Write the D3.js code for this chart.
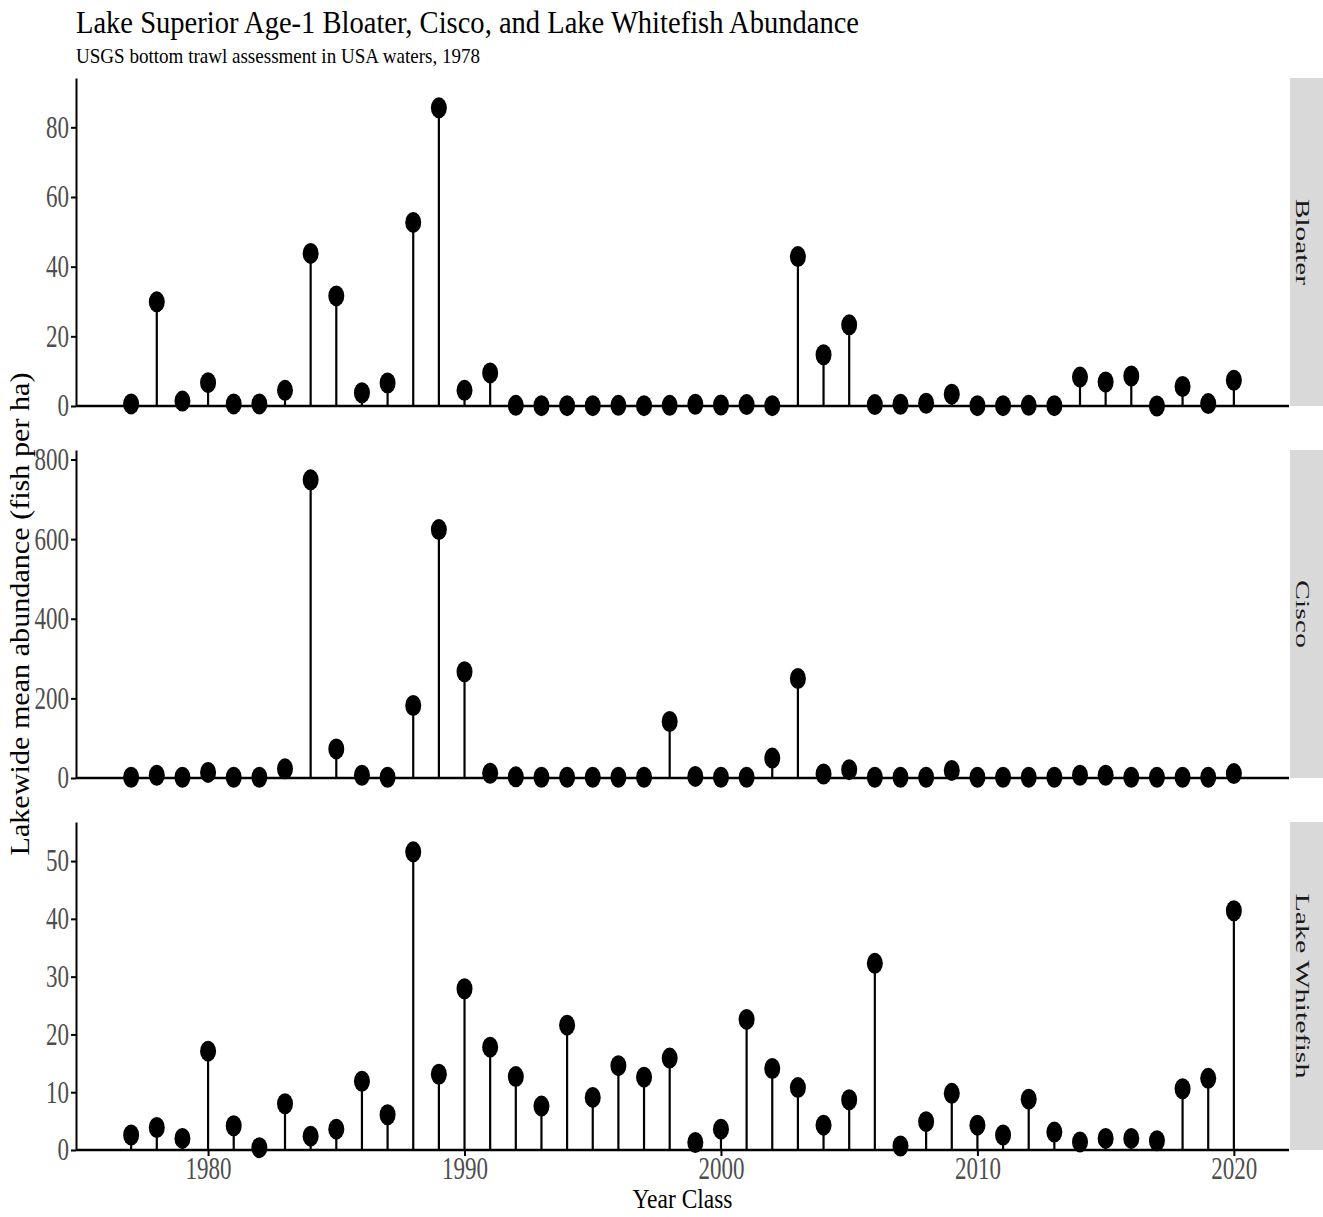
<!DOCTYPE html>
<html><head><meta charset="utf-8">
<script src="https://cdn.jsdelivr.net/npm/d3@7"></script>
<style>body{margin:0;background:#fff} svg{display:block}</style>
</head><body>
<svg id="c" width="1323" height="1217"></svg>
<script>
const years = [1977,1978,1979,1980,1981,1982,1983,1984,1985,1986,1987,1988,1989,1990,1991,1992,1993,1994,1995,1996,1997,1998,1999,2000,2001,2002,2003,2004,2005,2006,2007,2008,2009,2010,2011,2012,2013,2014,2015,2016,2017,2018,2019,2020];
const bloater = [0.6,29.9,1.4,6.7,0.6,0.6,4.5,43.8,31.6,3.8,6.6,52.7,85.6,4.5,9.5,0.2,0.1,0.1,0.1,0.2,0.1,0.2,0.5,0.3,0.4,0.1,42.9,14.7,23.3,0.4,0.5,0.8,3.4,0.1,0.1,0.2,0.1,8.3,6.9,8.6,0.0,5.6,0.7,7.4];
const cisco = [2,7,2,14,2,2,23,749,73,7,2,182,624,267,12,3,2,2,2,2,2,142,4,2,2,50,250,10,21,2,2,2,19,2,2,2,2,7,7,2,2,2,2,11];
const whitefish = [2.6,3.9,2.0,17.1,4.2,0.4,8.0,2.4,3.6,11.9,6.1,51.6,13.1,27.9,17.8,12.7,7.6,21.6,9.1,14.6,12.6,15.9,1.3,3.6,22.6,14.1,10.8,4.3,8.7,32.3,0.7,4.9,9.8,4.3,2.6,8.8,3.1,1.4,2.0,2.0,1.6,10.6,12.4,41.4];
const species = ["Bloater","Cisco","Lake Whitefish"];
const xTicks = [1980,1990,2000,2010,2020];
const yTicksBloater = [0,20,40,60,80];
const yTicksCisco = [0,200,400,600,800];
const yTicksWhitefish = [0,10,20,30,40,50];
const titleText = "Lake Superior Age-1 Bloater, Cisco, and Lake Whitefish Abundance";
const subtitleText = "USGS bottom trawl assessment in USA waters, 1978";
const xTitle = "Year Class";
const yTitle = "Lakewide mean abundance (fish per ha)";

const W = 1323, H = 1217;
const left = 76, right = 1289, panelTops = [78, 450, 822], panelH = 328;
const stripX = 1290, stripW = 33;
const FONT = "'Liberation Serif','Times New Roman',Times,serif";

const svg = d3.select("#c");
svg.append("rect").attr("width", W).attr("height", H).attr("fill", "#fff");

const ext = d3.extent(years), pad = (ext[1] - ext[0]) * 0.05;
const x = d3.scaleLinear().domain([ext[0] - pad, ext[1] + pad]).range([left, right]);

const seriesList = [bloater, cisco, whitefish];
const tickList = [yTicksBloater, yTicksCisco, yTicksWhitefish];
const stripLens = [86, 68, 185];

seriesList.forEach((vals, i) => {
  const top = panelTops[i];
  const y = d3.scaleLinear().domain([0, d3.max(vals) * 1.1]).range([top + panelH, top]);
  const data = years.map((yr, j) => ({year: yr, v: vals[j]}));

  // strip
  svg.append("rect").attr("x", stripX).attr("y", top).attr("width", stripW).attr("height", panelH).attr("fill", "#D9D9D9");
  svg.append("text").attr("transform", `translate(1296,${top + panelH / 2}) rotate(90)`)
    .attr("text-anchor", "middle").attr("font-family", FONT).attr("font-size", 18.5).attr("fill", "#1a1a1a")
    .attr("textLength", stripLens[i]).attr("lengthAdjust", "spacingAndGlyphs")
    .text(species[i]);

  // y axis
  const ay = svg.append("g").attr("transform", `translate(${left},0)`)
    .call(d3.axisLeft(y).tickValues(tickList[i]).tickSize(5).tickSizeOuter(0).tickPadding(2).tickFormat(d3.format("d")));
  ay.select(".domain").attr("stroke", "#000").attr("stroke-width", 2);
  ay.selectAll(".tick line").attr("stroke", "#000").attr("stroke-width", 2);
  ay.selectAll(".tick text").attr("font-family", FONT).attr("font-size", 31).attr("fill", "#4D4D4D")
    .attr("textLength", d => String(d).length * 11.5).attr("lengthAdjust", "spacingAndGlyphs");

  const g = svg.append("g");
  // stems
  g.selectAll("line.stem").data(data).join("line").attr("class", "stem")
    .attr("x1", d => x(d.year)).attr("x2", d => x(d.year))
    .attr("y1", y(0)).attr("y2", d => y(d.v))
    .attr("stroke", "#000").attr("stroke-width", 2.2);
  // zero line
  g.append("line").attr("x1", left).attr("x2", right).attr("y1", y(0)).attr("y2", y(0))
    .attr("stroke", "#000").attr("stroke-width", 2.6);
  // dots
  g.selectAll("ellipse").data(data).join("ellipse")
    .attr("cx", d => x(d.year)).attr("cy", d => y(d.v))
    .attr("rx", 8).attr("ry", 10.5).attr("fill", "#000");

  if (i === 2) {
    const ax = svg.append("g").attr("transform", `translate(0,${top + panelH})`)
      .call(d3.axisBottom(x).tickValues(xTicks).tickSize(6).tickSizeOuter(0).tickPadding(1).tickFormat(d3.format("d")));
    ax.select(".domain").remove();
    ax.selectAll(".tick line").attr("stroke", "#000").attr("stroke-width", 2);
    ax.selectAll(".tick text").attr("font-family", FONT).attr("font-size", 31).attr("fill", "#4D4D4D")
      .attr("textLength", d => String(d).length * 11.5).attr("lengthAdjust", "spacingAndGlyphs");
  }
});

// titles
svg.append("text").attr("x", 76).attr("y", 33).attr("font-family", FONT).attr("font-size", 31).attr("fill", "#000")
  .attr("textLength", 783).attr("lengthAdjust", "spacingAndGlyphs").text(titleText);
svg.append("text").attr("x", 76).attr("y", 63).attr("font-family", FONT).attr("font-size", 21).attr("fill", "#000")
  .attr("textLength", 404).attr("lengthAdjust", "spacingAndGlyphs").text(subtitleText);
svg.append("text").attr("x", (left + right) / 2).attr("y", 1208).attr("text-anchor", "middle")
  .attr("font-family", FONT).attr("font-size", 27).attr("fill", "#000")
  .attr("textLength", 100).attr("lengthAdjust", "spacingAndGlyphs").text(xTitle);
svg.append("text").attr("transform", `translate(29,${(panelTops[0] + panelTops[2] + panelH) / 2}) rotate(-90)`)
  .attr("text-anchor", "middle").attr("font-family", FONT).attr("font-size", 27).attr("fill", "#000")
  .attr("textLength", 483).attr("lengthAdjust", "spacingAndGlyphs").text(yTitle);
</script>
</body></html>
